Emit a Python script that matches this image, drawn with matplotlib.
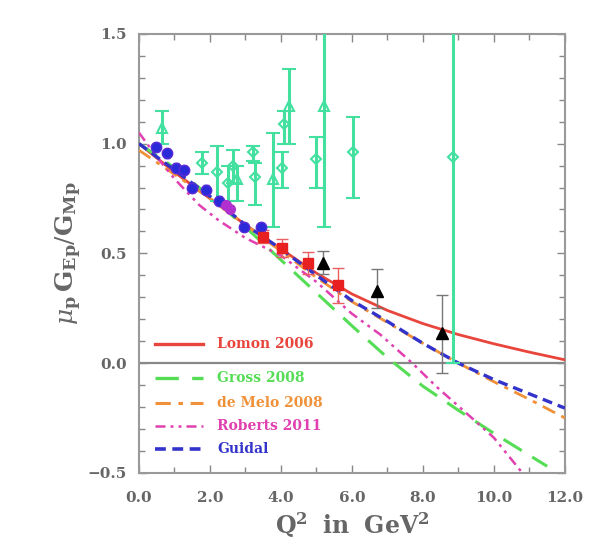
import numpy as np
import matplotlib
matplotlib.use("Agg")
import matplotlib.pyplot as plt

# ---------------- data ----------------
# Rosenbluth data (open green diamonds / triangles)
ros_dia_q2 = [1.77, 2.2, 2.5, 2.65, 3.2, 3.27, 4.03, 4.1, 5.0, 6.03, 8.85]
ros_dia_r = [0.91, 0.87, 0.82, 0.90, 0.96, 0.85, 0.89, 1.09, 0.93, 0.96, 0.94]
ros_dia_lo = [0.05, 0.13, 0.08, 0.08, 0.04, 0.13, 0.09, 0.09, 0.13, 0.21, 0.94]
ros_dia_hi = [0.05, 0.12, 0.08, 0.07, 0.03, 0.06, 0.07, 0.06, 0.10, 0.16, 0.70]
ros_tri_q2 = [0.65, 2.76, 3.78, 4.22, 5.2]
ros_tri_r = [1.07, 0.84, 0.84, 1.17, 1.17]
ros_tri_lo = [0.07, 0.10, 0.22, 0.17, 0.55]
ros_tri_hi = [0.08, 0.06, 0.21, 0.17, 0.40]

# polarization transfer data
pol_q2 = [0.48, 0.79, 1.04, 1.27, 1.49, 1.89, 2.25, 2.96, 3.44]
pol_r = [0.985, 0.955, 0.89, 0.88, 0.80, 0.79, 0.74, 0.62, 0.62]
pol_err = [0.02, 0.02, 0.02, 0.02, 0.02, 0.02, 0.02, 0.02, 0.02]
mag_q2 = [2.45, 2.56]
mag_r = [0.72, 0.70]
red_q2 = [3.5, 4.03, 4.76, 5.6]
red_r = [0.575, 0.524, 0.455, 0.355]
red_err = [0.03, 0.04, 0.05, 0.08]
blk_q2 = [5.18, 6.7, 8.53]
blk_r = [0.455, 0.33, 0.137]
blk_lo = [0.05, 0.08, 0.18]
blk_hi = [0.055, 0.10, 0.175]

# model curves
lemon_q2 = [0, 1, 2, 3, 4, 5, 6, 7, 8, 9, 10, 11, 12]
lemon_r = [1.0, 0.87, 0.75, 0.63, 0.52, 0.41, 0.315, 0.24, 0.18, 0.13, 0.088, 0.05, 0.015]
gross_q2 = [0, 1, 2, 3, 4, 5, 6, 7, 8, 9, 10, 11, 11.5]
gross_r = [1.0, 0.89, 0.76, 0.62, 0.47, 0.32, 0.17, 0.025, -0.105, -0.215, -0.32, -0.42, -0.47]
melo_q2 = [0, 1, 2, 3, 4, 5, 6, 7, 8, 9, 10, 11, 12]
melo_r = [0.97, 0.86, 0.75, 0.63, 0.51, 0.39, 0.28, 0.185, 0.09, 0.0, -0.085, -0.165, -0.25]
rob_q2 = [0, 0.5, 1, 1.7, 2.25, 3, 4, 5, 6, 6.8, 7.7, 8.4, 9.1, 10, 10.8]
rob_r = [1.05, 0.94, 0.84, 0.72, 0.65, 0.57, 0.49, 0.37, 0.225, 0.13, 0.0, -0.11, -0.21, -0.34, -0.5]
guidal_q2 = [0, 1, 2, 3, 4, 5, 6, 7, 8, 9, 10, 11, 12]
guidal_r = [1.0, 0.88, 0.76, 0.63, 0.52, 0.40, 0.285, 0.19, 0.09, 0.0, -0.075, -0.14, -0.205]

legend_labels = ["Lomon 2006", "Gross 2008", "de Melo 2008", "Roberts 2011", "Guidal"]

# ---------------- style ----------------
c_lemon = "#e8453c"
c_gross = "#55dd55"
c_melo = "#f0913a"
c_rob = "#e040b0"
c_guid = "#3333cc"
c_ros = "#44e0a0"
grey = "#666666"

plt.rcParams["font.family"] = ["DejaVu Serif"]
plt.rcParams["mathtext.fontset"] = "dejavuserif"

fig = plt.figure(figsize=(6.12, 5.55), dpi=100)
ax = fig.add_axes([0.227, 0.148, 0.696, 0.791])

ax.axhline(0, color="#888888", lw=1.6, zorder=1)

# curves
ax.plot(lemon_q2, lemon_r, color=c_lemon, lw=2.0, zorder=3)
ax.plot(gross_q2, gross_r, color=c_gross, lw=2.2, dashes=(7, 4), zorder=3)
ax.plot(melo_q2, melo_r, color=c_melo, lw=2.0, dashes=(5, 2.5, 1.5, 2.5), zorder=3)
ax.plot(rob_q2, rob_r, color=c_rob, lw=1.8, dashes=(4, 2, 1.2, 2, 1.2, 2), zorder=3)
ax.plot(guidal_q2, guidal_r, color=c_guid, lw=2.4, dashes=(3, 1.8), zorder=3)

# Rosenbluth data
ax.errorbar(ros_dia_q2, ros_dia_r, yerr=[ros_dia_lo, ros_dia_hi], fmt="D", ms=5.5,
            mfc="none", mec=c_ros, mew=1.5, ecolor=c_ros, elinewidth=2.2, capsize=5,
            capthick=1.8, zorder=4)
ax.errorbar(ros_tri_q2, ros_tri_r, yerr=[ros_tri_lo, ros_tri_hi], fmt="^", ms=7.5,
            mfc="none", mec=c_ros, mew=1.5, ecolor=c_ros, elinewidth=2.2, capsize=5,
            capthick=1.8, zorder=4)

# polarization data
ax.errorbar(pol_q2, pol_r, yerr=pol_err, fmt="o", ms=7.5, mfc="#2a2ad8", mec="#5a2ad8",
            ecolor="#2a2ad8", capsize=2, zorder=5)
ax.errorbar(mag_q2, mag_r, yerr=0.02, fmt="o", ms=7, mfc="#b030d0", mec="#b030d0",
            ecolor="#b030d0", zorder=5)
ax.errorbar(red_q2, red_r, yerr=red_err, fmt="s", ms=6.5, mfc="#e82020", mec="#e82020",
            ecolor="#e86060", elinewidth=1, capsize=4, zorder=5)
ax.errorbar(blk_q2, blk_r, yerr=[blk_lo, blk_hi], fmt="^", ms=9, mfc="black", mec="black",
            ecolor="#777777", elinewidth=1, capsize=4, zorder=6)

# manual legend
leg_colors = [c_lemon, c_gross, c_melo, c_rob, c_guid]
leg_dash = [None, (7, 4), (5, 2.5, 1.5, 2.5), (4, 2, 1.2, 2, 1.2, 2), (3, 1.8)]
leg_lw = [2.4, 2.4, 2.2, 1.8, 2.6]
leg_y = [0.086, -0.07, -0.18, -0.285, -0.39]
for lab, col, d, lw, yy in zip(legend_labels, leg_colors, leg_dash, leg_lw, leg_y):
    ln, = ax.plot([0.45, 1.8], [yy, yy], color=col, lw=lw, zorder=3)
    if d is not None:
        ln.set_dashes(d)
    ax.text(2.2, yy, lab, color=col, fontsize=10, fontweight="bold", va="center",
            ha="left")

ax.set_xlim(0, 12)
ax.set_ylim(-0.5, 1.5)
ax.set_xticks(np.arange(0, 12.01, 2))
ax.set_xticks(np.arange(0, 12.01, 1), minor=True)
ax.set_yticks(np.arange(-0.5, 1.51, 0.5))
ax.set_yticks(np.arange(-0.5, 1.51, 0.1), minor=True)
ax.set_xticklabels([f"{v:.1f}" for v in np.arange(0, 12.01, 2)])
ax.set_yticklabels([f"{v:.1f}".replace("-", "\u2212") for v in np.arange(-0.5, 1.51, 0.5)])
ax.tick_params(which="both", direction="in", top=True, right=True, colors="#888888",
               labelcolor=grey, labelsize=11)
ax.tick_params(which="major", length=6, width=1)
ax.tick_params(which="minor", length=4, width=1)
for lbl in ax.get_xticklabels() + ax.get_yticklabels():
    lbl.set_fontweight("bold")
ax.tick_params(axis="x", pad=13)
ax.tick_params(axis="y", pad=9)
for s in ax.spines.values():
    s.set_color("#999999")
    s.set_linewidth(1.5)

ax.set_xlabel(r"$\mathbf{Q^2\ \ in\ \ GeV^2}$", fontsize=17, color=grey, labelpad=4)
ax.set_ylabel(r"$\mu_{\mathbf{p}}\,\mathbf{G}_{\mathbf{Ep}}/\mathbf{G}_{\mathbf{Mp}}$",
              fontsize=18, color=grey, labelpad=2)

fig.savefig("out.png", dpi=100, facecolor="white")
